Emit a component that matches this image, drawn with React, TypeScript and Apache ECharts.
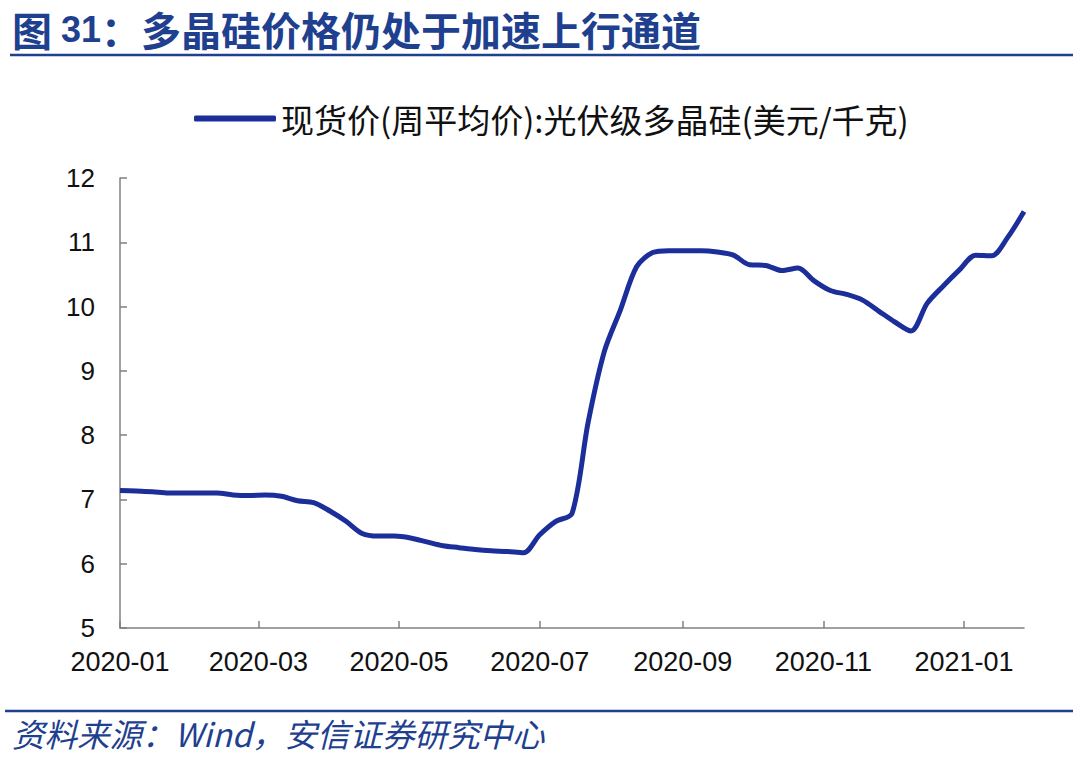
import React, { useEffect, useRef } from "react";
import * as echarts from "echarts";

const titleText = "图 31：多晶硅价格仍处于加速上行通道";
const legendName = "现货价(周平均价):光伏级多晶硅(美元/千克)";
const sourceText = "资料来源：Wind，安信证券研究中心";

const dates = [
  "2020-01-01", "2020-01-08", "2020-01-15", "2020-01-22", "2020-01-29",
  "2020-02-05", "2020-02-12", "2020-02-19", "2020-02-26",
  "2020-03-04", "2020-03-11", "2020-03-18", "2020-03-25",
  "2020-04-01", "2020-04-08", "2020-04-15", "2020-04-22", "2020-04-29",
  "2020-05-06", "2020-05-13", "2020-05-20", "2020-05-27",
  "2020-06-03", "2020-06-10", "2020-06-17", "2020-06-24",
  "2020-07-01", "2020-07-08", "2020-07-15", "2020-07-22", "2020-07-29",
  "2020-08-05", "2020-08-12", "2020-08-19", "2020-08-26",
  "2020-09-02", "2020-09-09", "2020-09-16", "2020-09-23", "2020-09-30",
  "2020-10-07", "2020-10-14", "2020-10-21", "2020-10-28",
  "2020-11-04", "2020-11-11", "2020-11-18", "2020-11-25",
  "2020-12-02", "2020-12-09", "2020-12-16", "2020-12-23", "2020-12-30",
  "2021-01-06", "2021-01-13", "2021-01-20", "2021-01-27",
];

const prices = [
  7.14, 7.13, 7.12, 7.10, 7.10,
  7.10, 7.10, 7.07, 7.06,
  7.07, 7.05, 6.98, 6.95,
  6.82, 6.66, 6.47, 6.43, 6.43,
  6.40, 6.34, 6.28, 6.25,
  6.22, 6.20, 6.19, 6.17,
  6.45, 6.66, 6.78, 8.20, 9.30,
  9.95, 10.62, 10.84, 10.87,
  10.87, 10.87, 10.85, 10.80, 10.65,
  10.64, 10.56, 10.60, 10.40,
  10.25, 10.19, 10.10, 9.93,
  9.76, 9.62, 10.05, 10.32, 10.57,
  10.80, 10.79, 11.08, 11.48,
];

const yTicks = [5, 6, 7, 8, 9, 10, 11, 12];

export default function App() {
  const ref = useRef<HTMLDivElement>(null);
  useEffect(() => {
    document.body.style.margin = "0";
    const chart = echarts.init(ref.current!, null, { renderer: "svg" });
    const numFont = "'Liberation Sans', Arial, 'Noto Sans CJK SC', sans-serif";
    const cjkFont = "'Noto Sans CJK SC', 'Liberation Sans', sans-serif";
    const blue = "#1F3F8F";
    chart.setOption({
      animation: false,
      backgroundColor: "#ffffff",
      title: {
        text: "{a|图 }{b|31}{a|：多晶硅价格仍处于加速上行通道}",
        left: 12,
        top: 9,
        padding: 0,
        textStyle: {
          rich: {
            a: { fontFamily: cjkFont, fontSize: 40, fontWeight: "bold", color: blue, lineHeight: 40 },
            b: { fontFamily: numFont, fontSize: 36, fontWeight: "bold", color: blue, lineHeight: 40 },
          },
        },
      },
      legend: {
        data: [legendName],
        left: 189,
        top: 97,
        icon: "roundRect",
        itemWidth: 82,
        itemHeight: 6,
        itemGap: 10,
        textStyle: { fontFamily: cjkFont, fontSize: 33, color: "#111" },
      },
      grid: { left: 120, right: 56, top: 178, bottom: 130, containLabel: false },
      xAxis: {
        type: "time",
        min: dates[0],
        max: dates[dates.length - 1],
        splitNumber: 6,
        axisLine: { lineStyle: { color: "#808080", width: 1.5 } },
        axisTick: { show: true, inside: true, length: 7, lineStyle: { color: "#808080", width: 1.5 } },
        splitLine: { show: false },
        axisLabel: {
          showMaxLabel: false,
          fontFamily: numFont,
          fontSize: 27,
          color: "#111",
          margin: 20,
          formatter: (v: number) => {
            const d = new Date(v);
            return d.getFullYear() + "-" + String(d.getMonth() + 1).padStart(2, "0");
          },
        },
      },
      yAxis: {
        type: "value",
        min: yTicks[0],
        max: yTicks[yTicks.length - 1],
        interval: 1,
        axisLine: { show: true, lineStyle: { color: "#808080", width: 1.5 } },
        axisTick: { show: true, inside: true, length: 7, lineStyle: { color: "#808080", width: 1.5 } },
        splitLine: { show: false },
        axisLabel: { fontFamily: numFont, fontSize: 26, color: "#111", margin: 25 },
      },
      series: [
        {
          name: legendName,
          type: "line",
          data: dates.map((d, i) => [d, prices[i]]),
          showSymbol: false,
          symbol: "none",
          smooth: 0.3,
          lineStyle: { color: "#1B2E99", width: 5 },
          itemStyle: { color: "#1B2E99" },
        },
      ],
      graphic: [
        {
          type: "line",
          shape: { x1: 10, y1: 55, x2: 1073, y2: 55 },
          style: { stroke: blue, lineWidth: 2.5 },
        },
        {
          type: "line",
          shape: { x1: 5, y1: 711, x2: 1073, y2: 711 },
          style: { stroke: blue, lineWidth: 2.5 },
        },
        {
          type: "text",
          left: 12,
          top: 716,
          style: {
            text: sourceText,
            fontFamily: cjkFont,
            fontSize: 32.5,
            fontStyle: "italic",
            fill: blue,
          },
        },
      ],
    });
    return () => chart.dispose();
  }, []);
  return (
    <div
      ref={ref}
      style={{ width: 1080, height: 758, position: "absolute", left: 0, top: 0 }}
    />
  );
}
